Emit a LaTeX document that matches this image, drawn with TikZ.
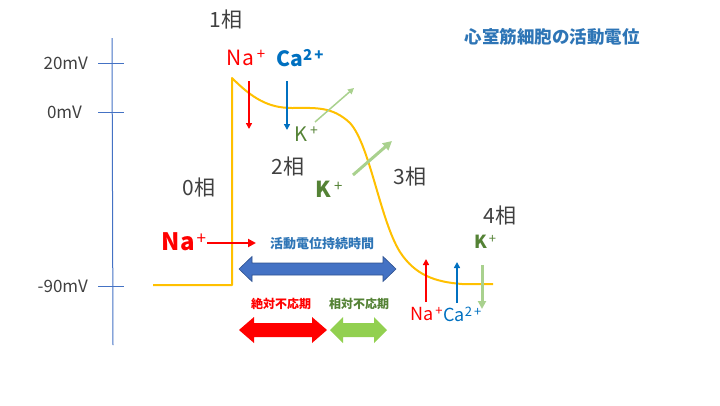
\documentclass[tikz,border=0pt]{standalone}
\usepackage{fontspec}
\setmainfont{Noto Sans CJK JP}
\usetikzlibrary{arrows.meta}
\definecolor{cRed}{HTML}{FF0000}
\definecolor{cBlue}{HTML}{0070C0}
\definecolor{cTitle}{HTML}{2E75B6}
\definecolor{cDkGreen}{HTML}{548235}
\definecolor{cLtGreen}{HTML}{A9D18E}
\definecolor{cGreen}{HTML}{92D050}
\definecolor{cArBlue}{HTML}{4472C4}
\definecolor{cArBlueD}{HTML}{2F528F}
\definecolor{cGray}{HTML}{404040}
\definecolor{cYellow}{HTML}{FFC000}
\newcommand\fsz[1]{\fontsize{#1}{#1}\selectfont}
\newcommand\supp[2][14]{\raisebox{0.5ex}{\fsz{#1}#2}}
\tikzset{
  phase/.style={text=cGray, font=\fsz{21}, inner sep=0pt},
  axlbl/.style={text=cGray, font=\fsz{17}, inner sep=0pt, anchor=east},
  ion/.style={inner sep=0pt},
  ionarrow/.style={-{Triangle[length=6pt,width=6pt]}},
  tick/.style={draw=cArBlue, line width=1pt},
}
\begin{document}
\begin{tikzpicture}[x=1pt,y=-1pt]
\useasboundingbox (0,0) rectangle (720,405);
% axis
\coordinate (axT) at (112,38);
\coordinate (axB) at (113,345);
\draw[cArBlue, line width=1pt] (axT) -- (axB);
\coordinate (t1a) at (98,63);  \coordinate (t1b) at (124,63);
\coordinate (t2a) at (98,112); \coordinate (t2b) at (124,112);
\coordinate (t3a) at (98,286); \coordinate (t3b) at (124,286);
\draw[tick] (t1a) -- (t1b);
\draw[tick] (t2a) -- (t2b);
\draw[tick] (t3a) -- (t3b);
\node[axlbl] (l20) at (88,63) {20mV};
\node[axlbl] (l0) at (82,112) {0mV};
\node[axlbl] (l90) at (88,286) {-90mV};
% title
\node[text=cTitle, font=\fsz{17.5}\bfseries, inner sep=0pt] (title) at (552,37) {心室筋細胞の活動電位};
% action potential curve
\draw[cYellow, line width=2pt, line join=round]
  (153,285) -- (232,285) -- (232,78)
  .. controls (252,98) and (268,108) .. (292,108)
  .. controls (315,108) and (332,106) .. (350,123)
  .. controls (370,145) and (380,220) .. (400,252)
  .. controls (415,275) and (435,282) .. (462,284) -- (493,284);
% phase labels
\node[phase] (p1) at (226,20) {1相};
\node[phase] (p2) at (288,167) {2相};
\node[phase] (p0) at (199,188) {0相};
\node[phase] (p3) at (410,177) {3相};
\node[phase] (p4) at (500,216) {4相};
% phase 1 ions
\node[ion, text=cRed, font=\fsz{21}] (na1) at (246,58) {Na\kern3pt\supp[15]{+}};
\node[ion, text=cBlue, font=\fsz{21}\bfseries] (ca1) at (300,58) {Ca\supp[15]{\bfseries 2\kern2pt+}};
\coordinate (na1a) at (249,81); \coordinate (na1b) at (249,129);
\coordinate (ca1a) at (287,81); \coordinate (ca1b) at (287,130);
\draw[ionarrow, cRed, line width=1.5pt] (na1a) -- (na1b);
\draw[ionarrow, cBlue, line width=2.5pt] (ca1a) -- (ca1b);
% phase 2 K
\node[ion, text=cDkGreen, font=\fsz{20}] (k1) at (306,134) {K\kern3pt\supp[14]{+}};
\coordinate (k1a) at (315,122); \coordinate (k1b) at (354,88);
\draw[ionarrow, cLtGreen, line width=1.5pt] (k1a) -- (k1b);
\node[ion, text=cDkGreen, font=\fsz{22}\bfseries] (k2) at (329,189) {K\kern3pt\supp[15]{\mdseries+}};
\coordinate (k2a) at (353,175); \coordinate (k2b) at (392,141);
\draw[-{Triangle[length=9pt,width=9pt]}, cLtGreen, line width=3pt] (k2a) -- (k2b);
% phase 0 Na
\node[ion, text=cRed, font=\fsz{24}\bfseries] (na0) at (184,242) {Na\kern2pt\supp[17]{\mdseries+}};
\coordinate (na0b) at (256,243);
\draw[-{Triangle[length=8pt,width=8pt]}, cRed, line width=2.5pt] (207,243) -- (na0b);
% duration
\node[ion, text=cTitle, font=\fsz{13}\bfseries] (dur) at (322,244) {活動電位持続時間};
\fill[cArBlue, draw=cArBlueD, line width=0.6pt]
  (239,269) -- (252,256.5) -- (252,263) -- (383,263) -- (383,256.5) -- (396,269)
  -- (383,281.5) -- (383,275) -- (252,275) -- (252,281.5) -- cycle;
% refractory periods
\node[ion, text=cRed, font=\fsz{12}\bfseries] (abs) at (281,304) {絶対不応期};
\node[ion, text=cDkGreen, font=\fsz{12}\bfseries] (rel) at (359,304) {相対不応期};
\fill[cRed]
  (239,330) -- (254,317) -- (254,323) -- (312,323) -- (312,317) -- (327,330)
  -- (312,343) -- (312,337) -- (254,337) -- (254,343) -- cycle;
\fill[cGreen]
  (330,330) -- (343,317) -- (343,323) -- (374,323) -- (374,317) -- (387,330)
  -- (374,343) -- (374,337) -- (343,337) -- (343,343) -- cycle;
% phase 4 ions
\node[ion, text=cDkGreen, font=\fsz{18}\bfseries] (k4) at (485,242) {K\kern2pt\supp[13]{\mdseries+}};
\coordinate (na4a) at (426,302); \coordinate (na4b) at (426,259);
\coordinate (ca4a) at (457,303); \coordinate (ca4b) at (457,262);
\coordinate (k4a) at (482,265);  \coordinate (k4b) at (482,309);
\draw[ionarrow, cRed, line width=2pt] (na4a) -- (na4b);
\draw[ionarrow, cBlue, line width=1.5pt] (ca4a) -- (ca4b);
\draw[-{Triangle[length=8pt,width=8pt]}, cLtGreen, line width=3pt] (k4a) -- (k4b);
\node[ion, text=cRed, font=\fsz{18}, anchor=west] (na4) at (410,314) {Na\kern2pt\supp[13]{+}};
\node[ion, text=cBlue, font=\fsz{18}, anchor=west] (ca4) at (443,314) {Ca\supp[13]{2\kern2pt+}};
\end{tikzpicture}
\end{document}
